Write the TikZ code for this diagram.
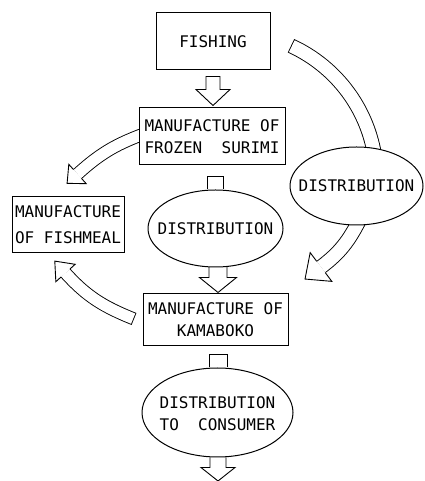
\documentclass[tikz,border=0pt]{standalone}
\usepackage{fontspec}
\setmonofont{DejaVu Sans Mono}
\usetikzlibrary{calc,shapes.geometric}
\tikzset{
  every picture/.style={font=\ttfamily\fontsize{16}{22}\selectfont},
  flow box/.style={draw, line width=1pt, fill=white, align=center, inner sep=0pt},
  flow oval/.style={draw, line width=1pt, fill=white, ellipse, inner sep=0pt},
  block arrow/.style={draw, line width=0.9pt, fill=white, line join=miter},
  band rim/.style={draw=black, line cap=butt},
  band core/.style={draw=white, line cap=butt}
}
\begin{document}
\begin{tikzpicture}[x=1pt,y=1pt]
  \useasboundingbox (0,0) rectangle (424,481);
  \coordinate (arcC) at (230,302);
  \draw[band rim, line width=14.9pt] ($(arcC)+(65.4:146.5)$) arc[start angle=65.4, end angle=8, radius=146.5];
  \draw[band core, line width=13.1pt] ($(arcC)+(65.05:146.5)$) arc[start angle=65.05, end angle=8, radius=146.5];
  \coordinate (sB) at (360,262);
  \coordinate (mB) at (321,214);
  \coordinate (tB) at ($(mB)+(217:20)$);
  \draw[band rim, line width=14.9pt] (sB) to[out=243,in=37] (mB);
  \draw[band core, line width=13.1pt] (sB) to[out=243,in=37] (mB);
  \draw[block arrow] ($(mB)!7pt!90:(tB)$) -- ($(mB)!18pt!90:(tB)$) -- (tB) -- ($(mB)!18pt!-90:(tB)$) -- ($(mB)!7pt!-90:(tB)$);
  \coordinate (sC) at (141,346);
  \coordinate (mC) at (77.5,307);
  \coordinate (tC) at ($(mC)+(222:14)$);
  \draw[band rim, line width=12.9pt] (sC) to[out=201,in=42] (mC);
  \draw[band core, line width=11.1pt] (sC) to[out=201,in=42] (mC);
  \draw[block arrow] ($(mC)!6pt!90:(tC)$) -- ($(mC)!13pt!90:(tC)$) -- (tC) -- ($(mC)!13pt!-90:(tC)$) -- ($(mC)!6pt!-90:(tC)$);
  \coordinate (sD) at (134,162);
  \coordinate (mD) at (65.5,208);
  \coordinate (tD) at ($(mD)+(132:16)$);
  \draw[band rim, line width=12.9pt] (sD) to[out=158,in=312] (mD);
  \draw[band core, line width=11.1pt, shorten <=0.9pt] (sD) to[out=158,in=312] (mD);
  \draw[block arrow] ($(mD)!6pt!90:(tD)$) -- ($(mD)!13pt!90:(tD)$) -- (tD) -- ($(mD)!13pt!-90:(tD)$) -- ($(mD)!6pt!-90:(tD)$);
  \node[flow box, minimum width=114pt, minimum height=57pt] (fishing) at (213,439.5) {FISHING};
  \node[flow box, minimum width=146pt, minimum height=57pt] (surimi) at (212,344.5) {MANUFACTURE OF\\FROZEN\ \ SURIMI};
  \node[flow box, minimum width=112pt, minimum height=56pt] (fishmeal) at (68,256) {MANUFACTURE\\[4pt]OF FISHMEAL};
  \node[flow box, minimum width=145pt, minimum height=52pt] (kamaboko) at (215.5,161) {MANUFACTURE OF\\KAMABOKO};
  \node[flow oval, minimum width=133pt, minimum height=78pt] (distR) at (356.5,295) {};
  \node (distRtext) at (distR) {DISTRIBUTION};
  \node[flow oval, minimum width=135pt, minimum height=77pt] (distM) at (215.5,252.5) {};
  \node (distMtext) at (distM) {DISTRIBUTION};
  \node[flow oval, minimum width=151pt, minimum height=89pt] (cons) at (217.5,68.5) {};
  \node[align=center] (constext) at ($(cons)+(0,-1.5)$) {DISTRIBUTION\\TO\ \ CONSUMER};
  \draw[block arrow] ($(fishing.south)+(-7,-6)$) -- ++(14,0) -- ++(0,-13) -- ++(10,0) -- ++(-17,-16) -- ++(-17,16) -- ++(10,0) -- cycle;
  \draw[block arrow, fill=none] ($(distM.north)+(-8,0)$) -- ++(0,13) -- ++(16,0) -- ++(0,-13);
  \draw[block arrow, fill=none] ($(distM.south)+(-6.5,0.4)$) -- ++(0,-10.4) -- ++(-9.5,0) -- ++(18.5,-15) -- ++(18.5,15) -- ++(-9.5,0) -- ++(0,10.4);
  \draw[block arrow, fill=none] ($(cons.north)+(-8.5,0)$) -- ++(0,13) -- ++(18,0) -- ++(0,-13);
  \draw[block arrow, fill=none] ($(cons.south)+(-7.5,0.2)$) -- ++(0,-10.2) -- ++(-9,0) -- ++(17,-13.5) -- ++(17,13.5) -- ++(-9,0) -- ++(0,10.2);
\end{tikzpicture}
\end{document}
